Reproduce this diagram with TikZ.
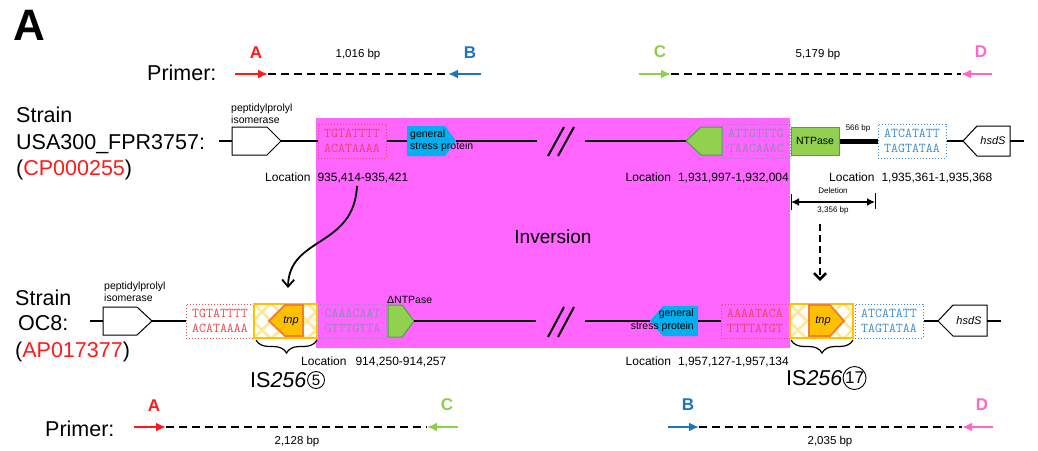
\documentclass[tikz,border=0pt]{standalone}
\usepackage{fontspec}
\setmainfont{Liberation Sans}
\usetikzlibrary{arrows.meta,decorations.pathreplacing,calc}
\definecolor{cRed}{HTML}{FF1A1A}
\definecolor{cBlue}{HTML}{1C75BC}
\definecolor{cGreen}{HTML}{8DD04A}
\definecolor{cPink}{HTML}{FF66CC}
\definecolor{mag}{HTML}{FF66FF}
\definecolor{cyanG}{HTML}{00B0F0}
\definecolor{gFill}{HTML}{92D050}
\definecolor{gLine}{HTML}{3DAA3D}
\definecolor{goldF}{HTML}{FFC000}
\definecolor{orangeL}{HTML}{F08030}
\definecolor{hatchC}{HTML}{FFE79A}
\definecolor{sqRed}{HTML}{F0406A}
\definecolor{sqRedB}{HTML}{E84A4A}
\definecolor{sqGray}{HTML}{8C8CB4}
\definecolor{sqBlue}{HTML}{3C8CCC}
\newcommand\fs[2]{\fontsize{#1}{#2}\selectfont}
\tikzset{
 bb/.style={line width=1.6pt, black},
 seqbox/.style={draw, dotted, line width=1pt, minimum width=68pt, minimum height=34pt, inner sep=0pt, align=center, font=\ttfamily\fs{13.5}{15.5}},
 gene/.style={line width=1pt},
 primarrow/.style={line width=2.6pt, -{Latex[length=10pt,width=9pt]}},
 dashln/.style={line width=2.2pt, dash pattern=on 8pt off 5pt},
 plet/.style={font=\bfseries\fs{17}{20}, inner sep=0pt},
 lbl/.style={inner sep=0pt, font=\fs{12}{14}},
 bplbl/.style={inner sep=0pt, font=\fs{11.5}{14}},
 small/.style={inner sep=0pt, font=\fs{10.5}{12}, align=left},
 tinyl/.style={inner sep=0pt, font=\fs{8}{9.5}},
 big/.style={inner sep=0pt, font=\fs{21.5}{26}},
 hatch/.style={hatchC, line width=2.5pt},
 circ/.style={circle, draw, line width=0.9pt, inner sep=0pt},
 slash/.style={line width=2pt},
}
\begin{document}
\begin{tikzpicture}[x=1pt,y=-1pt]
\useasboundingbox (0,0) rectangle (1038,450);
% inversion region
\fill[mag] (316,118) rectangle (790,348);
\node[font=\fs{19}{22}, inner sep=0] (inv) at (553,237) {Inversion};

% panel letter
\node[font=\bfseries\fs{44}{44}, inner sep=0] (pA) at (29,25) {A};

% ---- top primers
\node[big, anchor=west] (pr1) at (147,73) {Primer:};
\coordinate (a1s) at (235,74); \coordinate (a1e) at (268,74);
\coordinate (b1s) at (481,74); \coordinate (b1e) at (448,74);
\draw[dashln] (a1e) -- (b1e);
\draw[primarrow, cRed] (a1s) -- (a1e);
\draw[primarrow, cBlue] (b1s) -- (b1e);
\node[plet, text=cRed] (la1) at (256,53) {A};
\node[plet, text=cBlue] (lb1) at (470,53) {B};
\node[bplbl] (bp1) at (358,55) {1,016 bp};
\coordinate (c1s) at (639,74); \coordinate (c1e) at (671,74);
\coordinate (d1s) at (992,74); \coordinate (d1e) at (961,74);
\draw[dashln] (c1e) -- (d1e);
\draw[primarrow, cGreen] (c1s) -- (c1e);
\draw[primarrow, cPink] (d1s) -- (d1e);
\node[plet, text=cGreen] (lc1) at (660,52) {C};
\node[plet, text=cPink] (ld1) at (981,52) {D};
\node[bplbl] (bp2) at (818,55) {5,179 bp};

% ---- strain labels
\node[big, anchor=base west] (st1) at (16,122) {Strain};
\node[big, anchor=base west] (st2) at (16,149) {USA300\_FPR3757:};
\node[big, anchor=base west] (st3) at (16,175) {(\textcolor{cRed}{CP000255})};
\node[big, anchor=base west] (st4) at (15,305) {Strain};
\node[big, anchor=base west] (st5) at (18,330) {OC8:};
\node[big, anchor=base west] (st6) at (15,357) {(\textcolor{cRed}{AP017377})};

% ---- top chromosome
\coordinate (t0) at (219,141);
\coordinate (pp1w) at (232,141); \coordinate (pp1e) at (281,141);
\draw[bb] (t0) -- (pp1w);
\draw[gene, fill=white] (232,127) -- (267,127) -- (281,141) -- (267,155) -- (232,155) -- cycle;
\node[small, anchor=south west] (pp1l) at (231,124) {peptidylprolyl\\isomerase};
\node[seqbox, draw=sqRed, text=sqRed] (s1) at (352,141) {TGTATTTT\\ACATAAAA};
\draw[bb] (pp1e) -- (s1.west);
\coordinate (gs1w) at (407,141); \coordinate (gs1e) at (456,141);
\draw[bb] (s1.east) -- (gs1w);
\coordinate (br1a) at (537,141); \coordinate (br1b) at (585,141);
\draw[bb] (gs1e) -- (br1a);
\fill[cyanG] (407,126) -- (445,126) -- (456,141) -- (445,156) -- (407,156) -- cycle;
\node[small, anchor=west] (gs1) at (410,141) {general\\stress protein};
\draw[slash] (548,156) -- (564,127);
\draw[slash] (558,156) -- (574,127);
\coordinate (g1tip) at (686,141);
\draw[bb] (br1b) -- (g1tip);
\draw[gene, draw=gLine, fill=gFill] (686,141) -- (701,127) -- (722,127) -- (722,155) -- (701,155) -- cycle;
\node[seqbox, draw=sqGray, text=sqGray] (s2) at (756,141) {ATTGTTTG\\TAACAAAC};
\node[draw=gLine, fill=gFill, line width=1pt, minimum width=48pt, minimum height=28pt, inner sep=0pt, font=\fs{10.5}{12}] (ntp) at (815,141) {NTPase};
\node[seqbox, draw=sqBlue, text=sqBlue] (s3) at (912,141) {ATCATATT\\TAGTATAA};
\draw[line width=5pt] (ntp.east) -- (s3.west);
\node[tinyl] (bp566) at (858,128) {566 bp};
\coordinate (hs1tip) at (963,141); \coordinate (hs1e) at (1010,141); \coordinate (t1) at (1024,141);
\draw[bb] (s3.east) -- (hs1tip);
\draw[gene, fill=white] (963,141) -- (977,126) -- (1010,126) -- (1010,156) -- (977,156) -- cycle;
\node[font=\itshape\fs{11}{13}, inner sep=0pt] (hs1) at (993,141) {hsdS};
\draw[bb] (hs1e) -- (t1);

% top locations
\node[lbl, anchor=west] (loc1) at (265,178) {Location\hspace{7pt}935,414-935,421};
\node[lbl, anchor=east] (loc2) at (789,178) {Location\hspace{7pt}1,931,997-1,932,004};
\node[lbl, anchor=west] (loc3) at (829,178) {Location\hspace{7pt}1,935,361-1,935,368};

% deletion
\coordinate (del1) at (791,202); \coordinate (del2) at (875,202);
\draw[line width=2pt, {Latex[length=8pt,width=8pt]}-{Latex[length=8pt,width=8pt]}] (del1) -- (del2);
\draw[line width=1pt] (791,194) -- (791,210);
\draw[line width=1pt] (875,193) -- (875,209);
\node[tinyl] (dell) at (833,191) {Deletion};
\node[tinyl] (delb) at (833,210) {3,356 bp};

% arrows between rows
\coordinate (cs) at (357,186); \coordinate (ce) at (288,288);
\draw[line width=1.8pt, -{Straight Barb[length=7pt,width=12pt]}] (cs) .. controls (354,248) and (289,236) .. (ce);
\coordinate (ds) at (820,224); \coordinate (de) at (820,281);
\draw[line width=2.6pt, dash pattern=on 7pt off 4pt, -{Straight Barb[length=6pt,width=12pt]}] (ds) -- (de);

% ---- bottom chromosome
\coordinate (b0) at (90,321);
\coordinate (pp2w) at (103,321); \coordinate (pp2e) at (152,321);
\draw[bb] (b0) -- (pp2w);
\draw[gene, fill=white] (103,307) -- (137,307) -- (152,321) -- (137,335) -- (103,335) -- cycle;
\node[small, anchor=south west] (pp2l) at (104,302) {peptidylprolyl\\isomerase};
\node[seqbox, draw=sqRedB, text=sqRedB] (s4) at (220,321) {TGTATTTT\\ACATAAAA};
\draw[bb] (pp2e) -- (s4.west);
% IS256 block 1
\begin{scope}
\clip (254,304) rectangle (317,338);
\fill[white] (254,304) rectangle (317,338);
\foreach \a in {200,218,...,340} {
  \draw[hatch] (\a,304) -- ++(34,34);
  \draw[hatch] (\a,338) -- ++(34,-34);
}
\end{scope}
\draw[goldF, line width=1.8pt] (254,304) rectangle (317,338);
\draw[line width=1.8pt, draw=orangeL, fill=goldF] (269,321) -- (285,305) -- (303,305) -- (303,336) -- (285,336) -- cycle;
\node[font=\itshape\fs{11}{13}, inner sep=0pt] (tnp1) at (291,321) {tnp};
\node[seqbox, draw=sqGray, text=sqGray] (s5) at (352.5,321) {CAAACAAT\\GTTTGTTA};
\draw[gene, draw=gLine, fill=gFill] (388,305) -- (402,305) -- (414,321) -- (402,337) -- (388,337) -- cycle;
\node[small, anchor=south west] (dntp) at (387,304) {ΔNTPase};
\coordinate (dn2e) at (414,321);
\coordinate (br2a) at (536,321); \coordinate (br2b) at (585,321);
\draw[bb] (dn2e) -- (br2a);
\draw[slash] (548,337) -- (564,307);
\draw[slash] (558,337) -- (574,307);
\coordinate (gs2tip) at (650,321); \coordinate (gs2e) at (698,321);
\draw[bb] (br2b) -- (gs2tip);
\fill[cyanG] (650,321) -- (663,306) -- (698,306) -- (698,336) -- (663,336) -- cycle;
\node[small, align=right, anchor=east, font=\fs{10.5}{13}] (gs2) at (694,320) {general\\stress protein};
\node[seqbox, draw=sqRed, text=sqRed] (s6) at (755,321) {AAAATACA\\TTTTATGT};
\draw[bb] (gs2e) -- (s6.west);
% IS256 block 2
\begin{scope}
\clip (790,304) rectangle (853,338);
\fill[white] (790,304) rectangle (853,338);
\foreach \a in {736,754,...,876} {
  \draw[hatch] (\a,304) -- ++(34,34);
  \draw[hatch] (\a,338) -- ++(34,-34);
}
\end{scope}
\draw[goldF, line width=1.8pt] (790,304) rectangle (853,338);
\draw[line width=1.8pt, draw=orangeL, fill=goldF] (809,305) -- (830,305) -- (844,321) -- (830,336) -- (809,336) -- cycle;
\node[font=\itshape\fs{11}{13}, inner sep=0pt] (tnp2) at (823,321) {tnp};
\node[seqbox, draw=sqBlue, text=sqBlue] (s7) at (889,321) {ATCATATT\\TAGTATAA};
\coordinate (hs2tip) at (938,321); \coordinate (hs2e) at (987,321); \coordinate (b1) at (1001,321);
\draw[bb] (s7.east) -- (hs2tip);
\draw[gene, fill=white] (938,321) -- (953,305) -- (987,305) -- (987,336) -- (953,336) -- cycle;
\node[font=\itshape\fs{11}{13}, inner sep=0pt] (hs2) at (969,321) {hsdS};
\draw[bb] (hs2e) -- (b1);

% braces and IS labels
\draw[line width=1.2pt, decorate, decoration={brace, amplitude=13pt}] (317,340) -- (256,340);
\draw[line width=1.2pt, decorate, decoration={brace, amplitude=13pt}] (853,340) -- (791,340);
\node[big, anchor=west] (is1) at (250,380) {IS\textit{256}};
\node[circ, minimum size=17pt, font=\fs{15}{15}, anchor=west] (c5) at ([xshift=0.5pt]is1.east) {5};
\node[big, anchor=west] (is2) at (786,378) {IS\textit{256}};
\node[circ, minimum size=23pt, font=\fs{17}{17}, anchor=west] (c17) at (is2.east) {17};

% bottom locations
\node[lbl, anchor=west] (loc4) at (301,362) {Location\hspace{9pt}914,250-914,257};
\node[lbl, anchor=east] (loc5) at (789,362) {Location\hspace{7pt}1,957,127-1,957,134};

% ---- bottom primers
\node[big, anchor=west] (pr2) at (45,429) {Primer:};
\coordinate (a2s) at (134,427); \coordinate (a2e) at (166,427);
\coordinate (c2s) at (458,427); \coordinate (c2e) at (427,427);
\draw[dashln] (a2e) -- (c2e);
\draw[primarrow, cRed] (a2s) -- (a2e);
\draw[primarrow, cGreen] (c2s) -- (c2e);
\node[plet, text=cRed] (la2) at (154,406) {A};
\node[plet, text=cGreen] (lc2) at (447,405) {C};
\node[bplbl] (bp3) at (297,442) {2,128 bp};
\coordinate (b2s) at (668,427); \coordinate (b2e) at (699,427);
\coordinate (d2s) at (993,427); \coordinate (d2e) at (962,427);
\draw[dashln] (b2e) -- (d2e);
\draw[primarrow, cBlue] (b2s) -- (b2e);
\draw[primarrow, cPink] (d2s) -- (d2e);
\node[plet, text=cBlue] (lb2) at (688,405) {B};
\node[plet, text=cPink] (ld2) at (982,405) {D};
\node[bplbl] (bp4) at (830,442) {2,035 bp};
\end{tikzpicture}
\end{document}
